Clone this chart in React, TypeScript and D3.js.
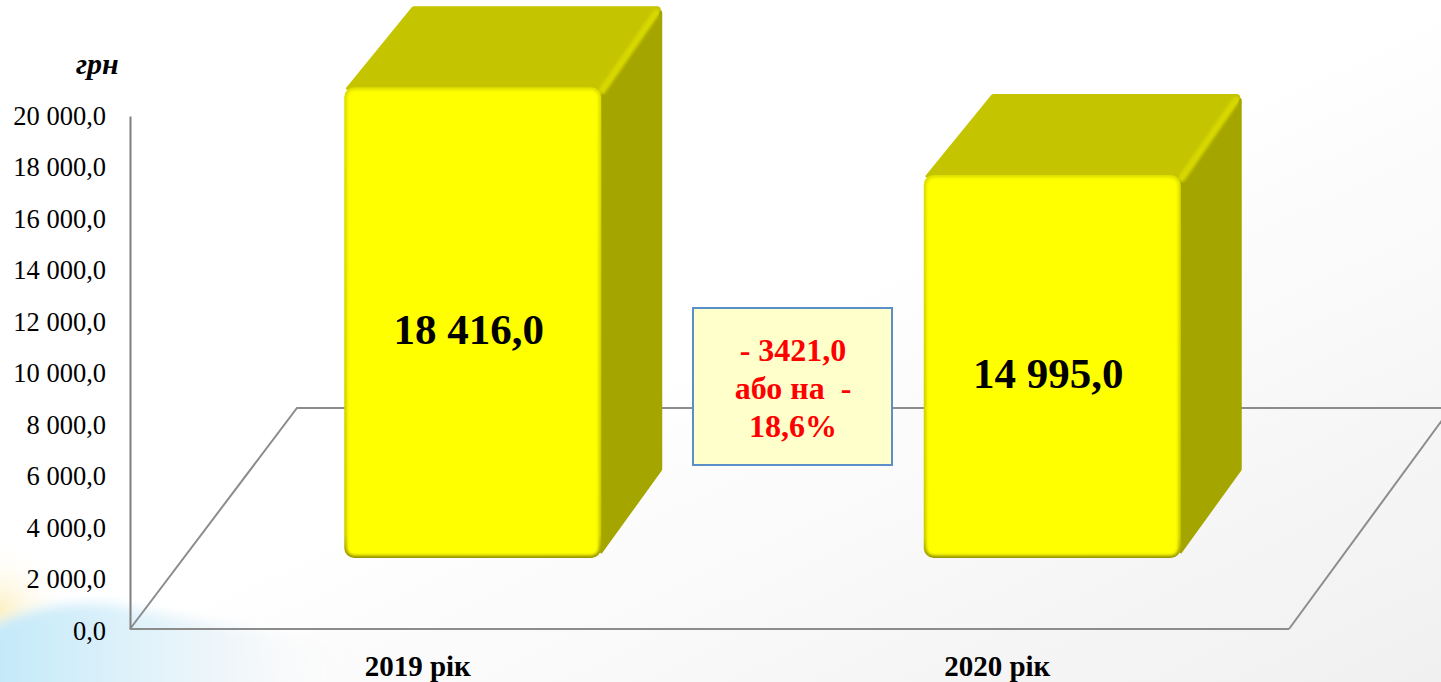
import React, { useEffect, useRef } from 'react';
import * as d3 from 'd3';

const years = ['2019 рік', '2020 рік'];
const values = [18416, 14995];
const valueLabels = ['18 416,0', '14 995,0'];
const tickValues = [0, 2000, 4000, 6000, 8000, 10000, 12000, 14000, 16000, 18000, 20000];
const noteLines = ['- 3421,0', 'або на  -', '18,6%'];

const FONT = '"Liberation Serif", "Times New Roman", serif';

const App = () => {
  const ref = useRef<SVGSVGElement | null>(null);

  useEffect(() => {
    const svg = d3.select(ref.current);
    svg.selectAll('*').remove();

    const defs = svg.append('defs');

    // page background: white, faint grey to the lower right, blue swoosh bottom left
    const grey = defs.append('linearGradient').attr('id', 'pageGrey')
      .attr('x1', 0.5).attr('y1', 0.5).attr('x2', 1).attr('y2', 1);
    grey.append('stop').attr('offset', 0).attr('stop-color', '#ffffff');
    grey.append('stop').attr('offset', 1).attr('stop-color', '#f0f0f0');

    const blue = defs.append('linearGradient').attr('id', 'swooshBlue')
      .attr('gradientUnits', 'userSpaceOnUse')
      .attr('x1', 0).attr('y1', 0).attr('x2', 340).attr('y2', 0);
    blue.append('stop').attr('offset', 0).attr('stop-color', '#c4e9fa');
    blue.append('stop').attr('offset', 0.35).attr('stop-color', '#dcf1fa');
    blue.append('stop').attr('offset', 0.7).attr('stop-color', '#f1f7fa');
    blue.append('stop').attr('offset', 1).attr('stop-color', '#f8f8f8').attr('stop-opacity', 0);

    const warm = defs.append('radialGradient').attr('id', 'cornerWarm')
      .attr('gradientUnits', 'userSpaceOnUse')
      .attr('cx', 0).attr('cy', 610).attr('r', 70);
    warm.append('stop').attr('offset', 0).attr('stop-color', '#fdf0c4');
    warm.append('stop').attr('offset', 1).attr('stop-color', '#ffffff').attr('stop-opacity', 0);

    const soft = defs.append('filter').attr('id', 'bevel')
      .attr('x', '-5%').attr('y', '-5%').attr('width', '110%').attr('height', '110%');
    soft.append('feGaussianBlur').attr('stdDeviation', 1.6);

    const wide = defs.append('filter').attr('id', 'swooshBlur')
      .attr('x', '-20%').attr('y', '-20%').attr('width', '140%').attr('height', '140%');
    wide.append('feGaussianBlur').attr('stdDeviation', 6);

    const edge = defs.append('linearGradient').attr('id', 'frontEdge')
      .attr('x1', 0).attr('y1', 0).attr('x2', 0).attr('y2', 1);
    edge.append('stop').attr('offset', 0).attr('stop-color', '#dcdc00');
    edge.append('stop').attr('offset', 0.95).attr('stop-color', '#c8c800');
    edge.append('stop').attr('offset', 1).attr('stop-color', '#8f8f00');

    svg.append('rect').attr('width', 1441).attr('height', 682).attr('fill', 'url(#pageGrey)');
    svg.append('rect').attr('width', 1441).attr('height', 682).attr('fill', 'url(#cornerWarm)');
    svg.append('path')
      .attr('d', 'M-20,632 Q40,600 110,604 L360,650 L380,700 L-20,700 Z')
      .attr('fill', 'url(#swooshBlue)').attr('filter', 'url(#swooshBlur)');

    const x0 = 130;
    const x1 = 1289;
    const yBase = 629;

    const y = d3.scaleLinear().domain([0, 20000]).range([yBase, 116]);
    const x = d3.scaleBand().domain(years).range([x0, x1]);

    // back wall / floor of the 3d plot
    const floorBack = 408;
    const floor = d3.line();
    svg.append('path')
      .attr('d', floor([[x0, yBase], [x0 + 167, floorBack], [1441, floorBack]]))
      .attr('fill', 'none').attr('stroke', '#8c8c8c').attr('stroke-width', 2);
    svg.append('path')
      .attr('d', floor([[x1, yBase], [x1 + 162, floorBack]]))
      .attr('fill', 'none').attr('stroke', '#8c8c8c').attr('stroke-width', 2);

    const loc = d3.formatLocale({ decimal: ',', thousands: ' ', grouping: [3], currency: ['', ''] });
    const axis = svg.append('g')
      .attr('transform', `translate(${x0},0)`)
      .call(d3.axisLeft(y).tickValues(tickValues).tickSize(0).tickPadding(24).tickFormat(loc.format(',.1f') as any));
    axis.select('.domain').attr('stroke', '#7f7f7f').attr('stroke-width', 2);
    axis.selectAll('text')
      .attr('font-family', FONT).attr('font-size', 26.5).attr('fill', '#000')
      .attr('y', (d: any) => 2 * (1 - d / 20000));

    svg.append('path')
      .attr('d', floor([[x0, yBase], [x1, yBase]]))
      .attr('stroke', '#8c8c8c').attr('stroke-width', 2).attr('fill', 'none');

    // bars: front face + top + side
    const barW = x.bandwidth() * 0.44;
    const depthX = 62;
    const depthY = 82;
    const liftX = 53;
    const liftY = 72;

    years.forEach((year, i) => {
      const left = x(year)! + x.bandwidth() / 2 + liftX - barW / 2;
      const right = left + barW;
      const bottom = yBase - liftY;
      const top = y(values[i]) - liftY + 4;
      const g = svg.append('g');

      // side
      g.append('path')
        .attr('d', floor([
          [right - 4, top + 4], [right + depthX - 3, top - depthY + 6],
          [right + depthX - 3, bottom - 88], [right - 1, bottom - 5],
        ]))
        .attr('fill', '#a5a500').attr('stroke', '#a5a500').attr('stroke-width', 6).attr('stroke-linejoin', 'round');

      // top
      g.append('path')
        .attr('d', floor([
          [left + 3, top + 2], [left + depthX + 7, top - depthY + 3],
          [right + depthX - 5, top - depthY + 3], [right - 4, top + 2],
        ]))
        .attr('fill', '#c4c400').attr('stroke', '#c4c400').attr('stroke-width', 7).attr('stroke-linejoin', 'round');

      // lighter diagonal edge of the top
      g.append('path')
        .attr('d', floor([[right + 2, top + 2], [right + depthX - 6, top - depthY + 6]]))
        .attr('stroke', '#d8d800').attr('stroke-width', 7).attr('stroke-linecap', 'round').attr('filter', 'url(#bevel)');

      // front
      g.append('rect')
        .attr('x', left - 1).attr('y', top - 1.5).attr('width', barW + 2).attr('height', bottom - top + 2.5)
        .attr('rx', 10).attr('fill', 'url(#frontEdge)');
      g.append('rect')
        .attr('x', left + 1.5).attr('y', top + 1).attr('width', barW - 3).attr('height', bottom - top - 2.5)
        .attr('rx', 8).attr('fill', '#ffff00').attr('filter', 'url(#bevel)');

      svg.append('text')
        .attr('x', left + barW / 2 - 4).attr('y', y(values[i]) - liftY + 259 + (i === 0 ? 0 : -43))
        .attr('text-anchor', 'middle').attr('font-family', FONT).attr('font-weight', 'bold')
        .attr('font-size', 43).attr('fill', '#000')
        .text(valueLabels[i]);

      svg.append('text')
        .attr('x', x(year)! + x.bandwidth() / 2 - 2).attr('y', 676)
        .attr('text-anchor', 'middle').attr('font-family', FONT).attr('font-weight', 'bold')
        .attr('font-size', 29).attr('fill', '#000')
        .text(year);
    });

    // unit
    svg.append('text')
      .attr('x', 76).attr('y', 74)
      .attr('font-family', FONT).attr('font-weight', 'bold').attr('font-style', 'italic')
      .attr('font-size', 30).attr('fill', '#000')
      .text('грн');

    // note box between the bars
    svg.append('rect')
      .attr('x', 693).attr('y', 308).attr('width', 199).attr('height', 157)
      .attr('fill', '#ffffcc').attr('stroke', '#5b8fc7').attr('stroke-width', 2);
    svg.append('g').selectAll('text').data(noteLines).join('text')
      .attr('x', 793).attr('y', (_, i) => 361 + i * 38)
      .attr('text-anchor', 'middle').attr('font-family', FONT).attr('font-weight', 'bold')
      .attr('font-size', 32).attr('fill', '#ff0000')
      .style('white-space', 'pre')
      .text(d => d);
  }, []);

  return <svg ref={ref} width={1441} height={682} style={{ position: 'absolute', left: 0, top: 0, display: 'block' }} />;
};

export default App;
